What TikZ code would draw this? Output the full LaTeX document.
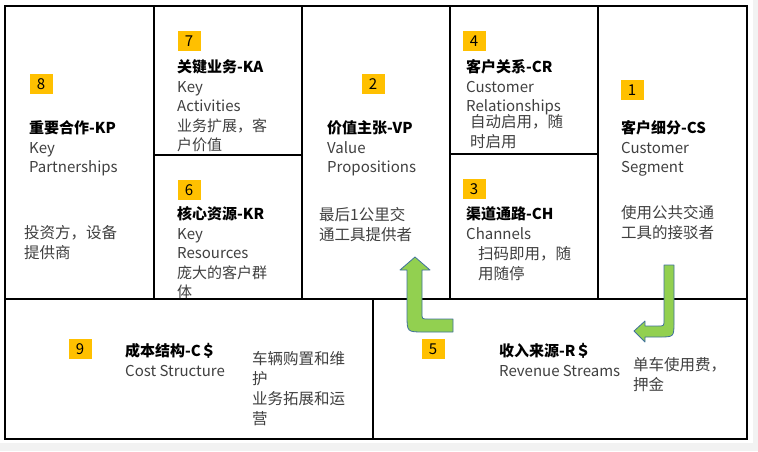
\documentclass[tikz,border=0pt]{standalone}
\usepackage{fontspec}
\setmainfont{Noto Sans CJK SC}
\usetikzlibrary{positioning}
\definecolor{badgeyellow}{HTML}{FFC000}
\definecolor{bodygray}{HTML}{404040}
\definecolor{arrowgreen}{HTML}{92D050}
\definecolor{arrowblue}{HTML}{41719C}
\definecolor{pagegray}{HTML}{F2F2F2}

\begin{document}
\begin{tikzpicture}[
    x=1pt, y=-1pt,
    cell/.style={line width=1.1pt},
    badge/.style={fill=badgeyellow, minimum width=23pt, minimum height=20pt, inner sep=0pt, font=\fontsize{15}{18}\selectfont},
    head/.style={anchor=north west, align=left, inner sep=0pt, text=bodygray, font=\fontsize{15}{19.5}\selectfont},
    body/.style={anchor=north west, align=left, inner sep=0pt, text=bodygray, font=\fontsize{15.5}{20}\selectfont},
    bentarrow/.style={fill=arrowgreen, draw=arrowblue, line width=0.8pt, line join=round}
]

% page
\fill[white] (0,0) rectangle (758,451);
\fill[pagegray] (0,443) rectangle (758,451);
\fill[pagegray] (753,0) rectangle (758,451);
\useasboundingbox (0,0) rectangle (758,451);

% canvas cells
\draw[cell] (5,6) rectangle (747,299);
\foreach \x in {154,302,450,598}
  \draw[cell] (\x,6) -- (\x,299);
\draw[cell] (154,155) -- (302,155);
\draw[cell] (450,154) -- (598,154);
\draw[cell] (5,299) rectangle (373,439);
\draw[cell] (373,299) rectangle (747,439);

% 8 key partnerships
\node[badge] (n8) at (41,84) {8};
\node[head] (kp) at (29,120.5) {{\bfseries\color{black}重要合作-KP}\\Key\\Partnerships};
\node[body] (kpText) at (24,225.5) {投资方，设备\\提供商};

% 7 key activities
\node[badge] (n7) at (189,41) {7};
\node[head] (ka) at (177,59.5) {{\bfseries\color{black}关键业务-KA}\\Key\\Activities\\业务扩展，客\\户价值};

% 6 key resources
\node[badge] (n6) at (189,190) {6};
\node[head] (kr) at (177,206.5) {{\bfseries\color{black}核心资源-KR}\\Key\\Resources\\庞大的客户群\\体};

% 2 value propositions
\node[badge] (n2) at (373,84) {2};
\node[head] (vp) at (327,120.5) {{\bfseries\color{black}价值主张-VP}\\Value\\Propositions};
\node[body] (vpText) at (319,207.5) {最后1公里交\\通工具提供者};

% 4 customer relationships
\node[badge] (n4) at (474,41) {4};
\node[head] (cr) at (466,59.5) {{\bfseries\color{black}客户关系-CR}\\Customer\\Relationships};
\node[body] (crText) at (470,114.5) {自动启用，随\\时启用};

% 3 channels
\node[badge] (n3) at (474,189) {3};
\node[head] (ch) at (466,206.5) {{\bfseries\color{black}渠道通路-CH}\\Channels};
\node[body] (chText) at (478,246.5) {扫码即用，随\\用随停};

% 1 customer segment
\node[badge] (n1) at (632,90) {1};
\node[head] (cs) at (621,120.5) {{\bfseries\color{black}客户细分-CS}\\Customer\\Segment};
\node[body] (csText) at (621,205.5) {使用公共交通\\工具的接驳者};

% 9 cost structure
\node[badge] (n9) at (80,349) {9};
\node[head] (cost) at (125,343.5) {{\bfseries\color{black}成本结构-C＄}\\Cost Structure};
\node[body] (costText) at (252,351.5) {车辆购置和维\\护\\业务拓展和运\\营};

% 5 revenue streams
\node[badge] (n5) at (433,349) {5};
\node[head] (rev) at (499,343.5) {{\bfseries\color{black}收入来源-R＄}\\Revenue Streams};
\node[body] (revText) at (633,357.5) {单车使用费，\\押金};

% bent arrows
\draw[bentarrow] (415,257) -- (430,270) -- (422,270) -- (422,313)
  .. controls (422,319) .. (428,319) -- (453,319) -- (453,332) -- (424,332)
  .. controls (407,332) .. (407,315) -- (407,270) -- (400,270) -- cycle;
\draw[bentarrow] (664,265) -- (674,265) -- (674,322)
  .. controls (674,337) .. (659,337) -- (645,337) -- (645,342) -- (634,331)
  -- (645,321) -- (645,326) -- (658,326) .. controls (664,326) .. (664,320) -- cycle;

\end{tikzpicture}
\end{document}
